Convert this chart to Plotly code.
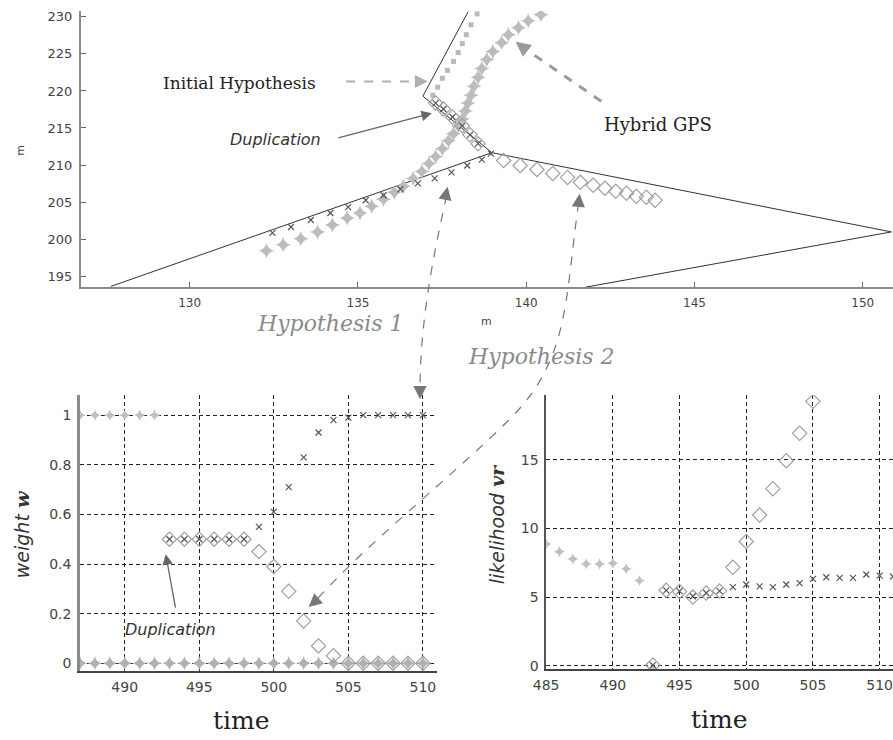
import plotly.graph_objects as go

W, H = 893, 740

# ---------------- map view (metres) ----------------
road_x = [138.27, 136.93, 138.98, 127.66, None, 138.98, 150.85, 141.75]
road_y = [230.67, 219.30, 211.67, 193.62, None, 211.67, 200.97, 193.50]

initial_x = [138.54, 138.36, 138.22, 138.10, 137.98, 137.84, 137.66, 137.51, 137.37, 137.22]
initial_y = [230.40, 228.93, 227.59, 226.39, 225.18, 223.98, 222.78, 221.71, 220.50, 219.43]

dup_x = [137.31, 137.54, 137.81, 138.10, 138.33, 138.57]
dup_y = [218.36, 217.56, 216.49, 215.29, 214.08, 212.88]

hyp1_x = [138.95, 138.68, 138.25, 137.78, 137.28, 136.78, 136.26, 135.76, 135.23,
          134.71, 134.18, 133.60, 133.01, 132.46]
hyp1_y = [211.54, 210.74, 209.94, 209.00, 208.20, 207.53, 206.73, 205.92, 205.25,
          204.32, 203.52, 202.58, 201.64, 200.84]

hyp2_x = [139.33, 139.82, 140.32, 140.79, 141.23, 141.61, 141.99, 142.34, 142.66,
          142.98, 143.27, 143.57, 143.83]
hyp2_y = [210.60, 209.94, 209.40, 208.87, 208.33, 207.66, 207.26, 206.86, 206.46,
          206.19, 205.79, 205.66, 205.25]

gps_x = [132.28, 132.78, 133.30, 133.80, 134.24, 134.68, 135.06, 135.41, 135.76,
         136.08, 136.35, 136.64, 136.90, 137.11, 137.31, 137.51, 137.69, 137.84,
         137.98, 138.10, 138.19, 138.27, 138.36, 138.45, 138.57, 138.68, 138.83,
         139.01, 139.27, 139.47, 139.77, 140.06, 140.44]
gps_y = [198.43, 199.23, 200.04, 200.97, 201.91, 202.85, 203.52, 204.45, 205.39,
         206.32, 207.13, 208.20, 209.13, 210.20, 211.14, 212.21, 213.28, 214.22,
         215.29, 216.22, 217.29, 218.36, 219.43, 220.64, 221.84, 223.04, 224.25,
         225.32, 226.52, 227.59, 228.53, 229.46, 230.27]

# ---------------- weights over time ----------------
w_time_all = list(range(487, 511))
w_zero = [0] * len(w_time_all)
w_init_t = [487, 488, 489, 490, 491, 492]
w_init = [1, 1, 1, 1, 1, 1]
w_hyp_t = list(range(493, 511))
w_hyp1 = [0.5, 0.5, 0.5, 0.5, 0.5, 0.5, 0.55, 0.61, 0.71, 0.83, 0.93, 0.98,
          0.99, 1, 1, 1, 1, 1]
w_hyp2 = [0.5, 0.5, 0.5, 0.5, 0.5, 0.5, 0.45, 0.39, 0.29, 0.17, 0.07, 0.03,
          0, 0, 0, 0, 0, 0]

# ---------------- likelihood over time ----------------
l_init_t = [485, 486, 487, 488, 489, 490, 491, 492, 493]
l_init = [8.86, 8.31, 7.78, 7.42, 7.42, 7.47, 7.06, 6.21, -0.2]
l_hyp1_t = list(range(493, 512))
l_hyp1 = [0.05, 5.49, 5.44, 5.06, 5.30, 5.44, 5.73, 5.92, 5.78, 5.73, 5.92, 6.02,
          6.33, 6.45, 6.40, 6.40, 6.65, 6.57, 6.50]
l_hyp2_t = list(range(493, 506))
l_hyp2 = [0.05, 5.50, 5.40, 5.00, 5.30, 5.45, 7.17, 9.05, 10.98, 12.90, 14.93,
          16.93, 19.26]

map_xticks = [130, 135, 140, 145, 150]
map_yticks = [195, 200, 205, 210, 215, 220, 225, 230]
w_xticks = [490, 495, 500, 505, 510]
w_yticks = [0, 0.2, 0.4, 0.6, 0.8, 1]
w_yticktext = ["0", "0.2", "0.4", "0.6", "0.8", "1"]
l_xticks = [485, 490, 495, 500, 505, 510]
l_yticks = [0, 5, 10, 15]

SANS = "DejaVu Sans, Arial, sans-serif"
SERIF = "DejaVu Serif, Times New Roman, serif"

X_MARK = dict(symbol="x-thin-open", size=6, color="#555555", line=dict(width=1.2, color="#555555"))
D_MARK = dict(symbol="diamond-open", size=11, color="#a0a0a0", line=dict(width=1.2))
DOT_MARK = dict(symbol="star-diamond", size=8, color="#c0c0c0", line=dict(width=0))
GPS_MARK = dict(symbol="star-diamond", size=11, color="#bcbcbc", line=dict(width=0))

fig = go.Figure()

# map view
fig.add_trace(go.Scatter(x=road_x, y=road_y, mode="lines", line=dict(color="#333333", width=1),
                         xaxis="x", yaxis="y", showlegend=False))
fig.add_trace(go.Scatter(x=gps_x, y=gps_y, mode="markers", marker=GPS_MARK,
                         xaxis="x", yaxis="y", showlegend=False))
fig.add_trace(go.Scatter(x=initial_x, y=initial_y, mode="markers",
                         marker=dict(symbol="square", size=5, color="#bababa"),
                         xaxis="x", yaxis="y", showlegend=False))
fig.add_trace(go.Scatter(x=dup_x + hyp2_x, y=dup_y + hyp2_y, mode="markers", marker=D_MARK,
                         xaxis="x", yaxis="y", showlegend=False))
fig.add_trace(go.Scatter(x=dup_x + hyp1_x, y=dup_y + hyp1_y, mode="markers", marker=X_MARK,
                         xaxis="x", yaxis="y", showlegend=False))

# weights
fig.add_trace(go.Scatter(x=w_time_all, y=w_zero, mode="markers",
                         marker=dict(symbol="star-diamond", size=10, color="#b0b0b0"),
                         xaxis="x2", yaxis="y2", showlegend=False))
fig.add_trace(go.Scatter(x=w_init_t, y=w_init, mode="markers", marker=DOT_MARK,
                         xaxis="x2", yaxis="y2", showlegend=False))
fig.add_trace(go.Scatter(x=w_hyp_t, y=w_hyp2, mode="markers", marker=D_MARK,
                         xaxis="x2", yaxis="y2", showlegend=False))
fig.add_trace(go.Scatter(x=w_hyp_t, y=w_hyp1, mode="markers", marker=X_MARK,
                         xaxis="x2", yaxis="y2", showlegend=False))

# likelihoods
fig.add_trace(go.Scatter(x=l_init_t, y=l_init, mode="markers", marker=DOT_MARK,
                         xaxis="x3", yaxis="y3", showlegend=False))
fig.add_trace(go.Scatter(x=l_hyp2_t, y=l_hyp2, mode="markers", marker=D_MARK,
                         xaxis="x3", yaxis="y3", showlegend=False))
fig.add_trace(go.Scatter(x=l_hyp1_t, y=l_hyp1, mode="markers", marker=X_MARK,
                         xaxis="x3", yaxis="y3", showlegend=False))


def px(x):
    return x / W


def py(y):
    return 1 - y / H


axis_font = dict(family=SANS, size=14, color="#444444")
grid = dict(showgrid=True, gridcolor="#222222", gridwidth=1, griddash="4px,3px", zeroline=False)

fig.update_layout(
    width=W, height=H,
    margin=dict(l=0, r=0, t=0, b=0),
    paper_bgcolor="white", plot_bgcolor="white",
    xaxis=dict(domain=[px(69), 1.0], anchor="y", range=[126.77, 150.9],
               tickvals=map_xticks, ticks="inside", ticklen=5, tickcolor="#666666",
               showline=True, linecolor="#8a8a8a", linewidth=2, showgrid=False, zeroline=False,
               tickfont=dict(family=SANS, size=12, color="#444444"), ticklabelstandoff=4,
               ticklabeloverflow="allow"),
    yaxis=dict(domain=[py(288), py(10)], anchor="x", range=[193.53, 230.8],
               tickvals=map_yticks, ticks="inside", ticklen=5, tickcolor="#666666",
               showline=True, linecolor="#8a8a8a", linewidth=2, showgrid=False, zeroline=False,
               tickfont=dict(family=SANS, size=13, color="#444444"), ticklabelstandoff=4),
    xaxis2=dict(domain=[px(68), px(430)], anchor="y2", range=[487.0, 510.93],
                tickvals=w_xticks, ticks="", showline=True, linecolor="#444444", linewidth=1.5,
                tickfont=axis_font, ticklabelstandoff=2, **grid),
    yaxis2=dict(domain=[py(675), py(397)], anchor="x2", range=[-0.033, 1.08],
                tickvals=w_yticks, ticktext=w_yticktext, ticks="", showline=True,
                linecolor="#8a8a8a", linewidth=2.5, tickfont=axis_font, ticklabelstandoff=3, **grid),
    xaxis3=dict(domain=[px(541), 1.0], anchor="y3", range=[485.0, 511.0],
                tickvals=l_xticks, ticks="", showline=True, linecolor="#444444", linewidth=1.5,
                tickfont=axis_font, ticklabelstandoff=2, ticklabeloverflow="allow", **grid),
    yaxis3=dict(domain=[py(673), py(397)], anchor="x3", range=[-0.27, 19.7],
                tickvals=l_yticks, ticks="", showline=True, linecolor="#555555", linewidth=1.5,
                tickfont=axis_font, ticklabelstandoff=3, **grid),
)

ann = []


def label(x, y, text, size, color="#222222", family=SERIF, angle=0):
    ann.append(dict(x=px(x), y=py(y), xref="paper", yref="paper", text=text, showarrow=False,
                    font=dict(family=family, size=size, color=color), textangle=angle,
                    xanchor="center", yanchor="middle"))


def head(tx, ty, fx, fy, color, width, size):
    ann.append(dict(x=px(tx), y=py(ty), xref="paper", yref="paper", text="", showarrow=True,
                    ax=fx - tx, ay=fy - ty, arrowhead=2, arrowcolor=color, arrowwidth=width,
                    arrowsize=size))


# axis titles
label(8, 150, "m", 11, "#444444", SANS, -90)
label(481, 323, "m", 11, "#444444", SANS)
label(10, 537, "<i>weight</i> <span style='font-family:DejaVu Serif'><b><i>w</i></b></span>",
      19, "#333333", SANS, -90)
label(492, 527, "<i>likelihood</i> <span style='font-family:DejaVu Serif'><b><i>vr</i></b></span>",
      19, "#333333", SANS, -90)
label(232, 724, "time", 25, "#222222")
label(717, 723, "time", 25, "#222222")

# text callouts
label(230, 83, "Initial Hypothesis", 17)
label(266, 139, "<i>Duplication</i>", 16, "#333333", SANS)
label(655, 124, "Hybrid GPS", 18)
label(322, 325, "<i>Hypothesis 1</i>", 22, "#8a8a8a")
label(536, 358, "<i>Hypothesis 2</i>", 22, "#8a8a8a")
label(160, 633, "<i>Duplication</i>", 16, "#333333", SANS)

# solid arrows
head(425, 113, 330, 138, "#666666", 1.3, 1.6)
head(155, 557, 165, 612, "#666666", 1.3, 1.6)

# dashed arrow shafts and heads
shapes = []


def dashed(path, color, width):
    shapes.append(dict(type="path", path=path, xref="paper", yref="paper",
                       line=dict(color=color, width=width, dash="dash")))


def P(x, y):
    return f"{px(x):.5f},{py(y):.5f}"


dashed(f"M {P(338, 81)} L {P(412, 81)}", "#b0b0b0", 2)
head(421, 81, 411, 81, "#b0b0b0", 2, 1.3)

dashed(f"M {P(597, 101)} L {P(518, 47)}", "#9a9a9a", 3)
head(510, 41, 519, 48, "#9a9a9a", 3, 1.0)

dashed(f"M {P(440, 196)} C {P(428, 250)} {P(413, 320)} {P(413, 392)}", "#777777", 1.2)
head(441, 187, 439, 197, "#777777", 1.2, 2.2)
head(413, 401, 413, 391, "#777777", 1.2, 2.2)

dashed(f"M {P(574, 203)} C {P(560, 300)} {P(565, 360)} {P(505, 420)} "
       f"C {P(450, 475)} {P(360, 545)} {P(307, 604)}", "#777777", 1.2)
head(575, 194, 574, 204, "#777777", 1.2, 2.2)
head(300, 610, 308, 603, "#777777", 1.2, 2.2)

fig.update_layout(annotations=ann, shapes=shapes)

fig.write_html("out.html")
